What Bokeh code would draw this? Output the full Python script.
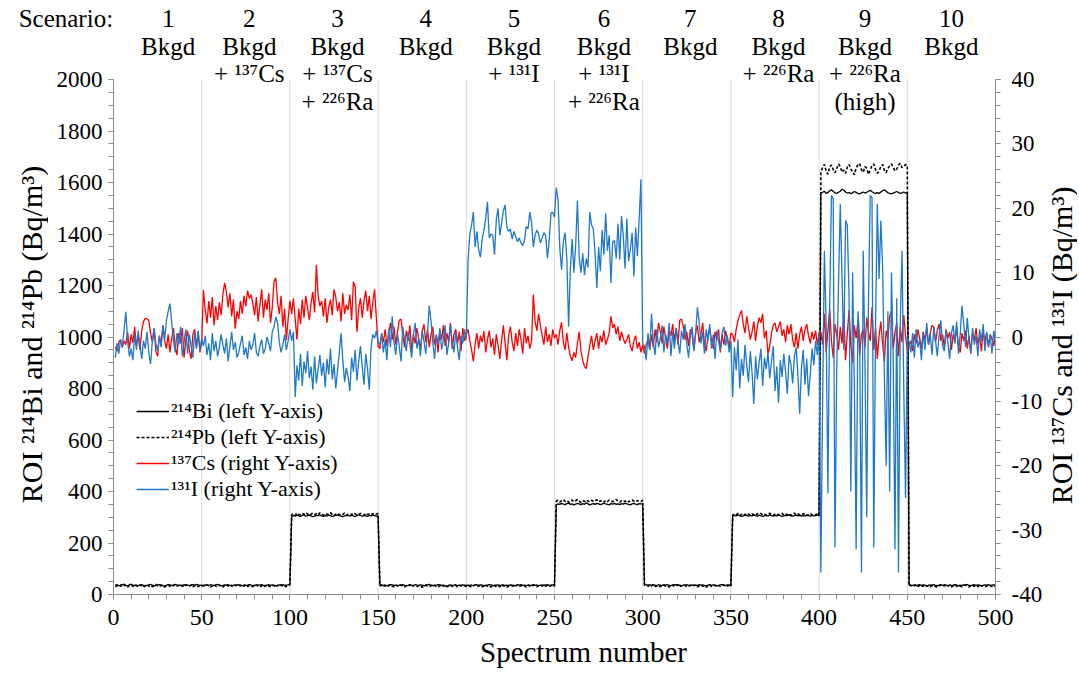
from math import pi
from bokeh.plotting import figure
from bokeh.layouts import column, row
from bokeh.models import Range1d, LinearAxis, FixedTicker, Legend, LegendItem
from bokeh.core.properties import value
from bokeh.embed import file_html
from bokeh.resources import INLINE

FONT = "Liberation Serif"

# ---------------- data ----------------
spectrum = list(range(1, 501))

# 214Bi, left axis (Bq/m3), one list per scenario of 50 spectra
bi_s1 = [36,38,34,37,39,35,36,33,38,40, 36,35,37,34,36,38,35,33,36,37, 39,36,34,35,37,38,36,34,33,36, 38,37,35,36,39,37,34,36,35,38, 36,37,34,35,38,36,39,37,35,36]
bi_s2 = [35,37,36,34,38,36,35,37,39,36, 34,35,37,36,38,35,33,36,37,35, 38,36,34,37,35,36,38,37,34,36, 35,37,36,39,35,34,36,38,35,37, 36,34,35,37,36,38,35,36,37,40]
bi_s3 = [302,306,304,308,305,303,307,309,304,306, 308,305,302,304,307,306,309,305,303,306, 304,308,306,303,305,307,309,306,304,302, 305,307,306,304,308,305,303,306,309,307, 304,305,306,303,307,305,308,306,304,305]
bi_s4 = [38,36,35,37,34,36,38,37,35,36, 34,37,35,38,36,33,35,37,36,34, 38,36,35,37,36,34,35,37,39,36, 35,34,36,38,37,35,36,34,33,36, 37,35,36,38,34,36,35,37,36,35]
bi_s5 = [36,35,37,34,36,38,35,37,36,34, 35,36,38,37,35,34,36,37,35,36, 38,34,36,35,37,36,35,34,37,36, 38,35,36,34,37,35,36,38,35,37, 34,36,35,37,36,38,35,36,37,36]
bi_s6 = [348,352,350,354,351,349,353,355,350,352, 348,351,354,352,349,353,350,356,352,348, 351,353,350,354,352,349,351,355,352,350, 348,353,351,354,350,352,349,353,351,355, 352,350,348,352,354,351,349,353,352,350]
bi_s7 = [40,37,36,38,35,37,36,34,38,36, 35,37,36,39,35,34,36,38,37,35, 36,34,37,36,38,35,36,37,34,36, 35,38,36,37,35,34,36,38,35,37, 36,34,35,37,38,36,35,37,36,38]
bi_s8 = [304,307,305,309,306,303,305,308,306,304, 307,305,309,306,304,308,305,303,306,307, 305,309,306,304,307,305,308,306,303,305, 307,306,309,305,304,306,308,305,307,304, 306,305,308,306,304,307,305,306,308,305]
bi_s9 = [1560,1562,1566,1558,1561,1568,1572,1565,1560,1558, 1562,1566,1574,1570,1563,1559,1561,1557,1560,1565, 1562,1558,1556,1560,1563,1559,1562,1566,1570,1564, 1560,1558,1561,1557,1563,1568,1572,1566,1560,1558, 1556,1559,1562,1565,1561,1558,1560,1563,1559,1561]
bi_s10 = [38,36,35,37,34,36,38,35,37,36, 34,35,37,36,38,35,34,36,37,35, 38,36,34,37,35,36,38,37,34,36, 35,37,36,39,35,34,36,38,35,37, 36,34,35,37,36,38,35,36,37,36]

# 214Pb, left axis (Bq/m3)
pb_s1 = [30,34,38,32,36,40,33,29,35,39, 31,36,34,30,37,33,28,35,38,32, 36,30,34,39,33,31,36,35,29,34, 37,32,30,35,38,33,36,31,34,29, 37,35,32,38,30,34,36,31,35,33]
pb_s2 = [34,31,37,35,29,33,38,32,30,36, 34,28,35,39,33,31,36,30,34,37, 32,35,29,33,38,31,36,34,30,35, 37,32,29,34,36,31,38,33,30,35, 34,28,36,32,37,31,34,30,35,38]
pb_s3 = [310,314,308,316,312,309,315,311,318,313, 307,312,316,310,314,309,317,312,308,315, 311,313,318,310,306,312,315,309,314,311, 316,308,312,314,310,317,313,309,311,315, 312,308,316,311,313,310,314,309,312,315]
pb_s4 = [33,37,31,35,29,34,38,32,30,36, 34,31,37,33,29,35,32,38,30,34, 36,31,35,33,28,34,37,32,30,35, 33,36,31,29,34,38,32,35,30,33, 37,31,34,36,30,33,35,32,34,31]
pb_s5 = [35,32,29,34,37,31,33,36,30,34, 38,32,35,29,33,36,31,34,30,37, 33,35,29,32,36,34,30,33,38,31, 35,32,34,29,36,33,31,35,37,30, 34,32,36,29,33,35,31,34,37,32]
pb_s6 = [362,366,359,364,368,361,365,358,363,367, 360,364,369,362,358,365,361,367,363,359, 366,362,364,368,360,363,366,359,365,361, 367,363,360,364,369,362,358,365,363,361, 366,360,364,367,362,359,365,363,361,366]
pb_s7 = [36,32,35,29,34,38,31,33,36,30, 34,37,32,35,29,33,36,31,35,38, 30,34,32,36,29,33,35,31,37,34, 30,33,36,32,35,29,34,38,31,33, 36,30,35,32,34,37,31,33,35,30]
pb_s8 = [308,313,310,315,307,311,314,309,316,312, 308,313,310,306,314,311,315,309,312,308, 313,316,310,307,312,314,309,311,315,308, 312,310,314,307,311,316,309,313,310,308, 314,312,306,311,315,309,312,310,313,308]
pb_s9 = [1640,1658,1670,1645,1632,1660,1668,1650,1638,1655, 1672,1662,1640,1648,1635,1660,1670,1652,1642,1630, 1656,1668,1674,1650,1640,1662,1655,1632,1648,1666, 1672,1650,1636,1645,1662,1670,1648,1638,1655,1664, 1672,1660,1645,1652,1668,1674,1658,1662,1670,1666]
pb_s10 = [33,36,30,34,38,31,35,29,33,37, 32,35,30,34,36,31,28,34,37,32, 35,30,33,36,29,34,38,31,35,32, 30,34,37,33,29,35,36,31,34,30, 37,33,35,29,32,36,34,31,35,33]

# 137Cs, right axis (Bq/m3)
cs_s1 = [-1.5,-2.2,-0.8,-0.4,-1.6,-0.6,-1.2,0.8,-1.8,0.4, -0.9,1.6,-1.4,0.2,-2.0,1.0,2.4,2.9,2.8,2.6, 0.6,-0.8,1.2,-2.2,-3.0,0.2,-1.2,1.8,-0.6,-1.8, 0.4,-2.4,-0.2,1.4,-1.6,-2.8,0.6,-1.0,1.4,-3.2, -0.4,1.0,-2.0,-3.4,0.4,1.2,-1.6,0.8,-2.4,-0.6]
cs_s2 = [7.3,4.2,2.1,5.6,3.0,6.2,1.8,4.8,2.6,5.4, 3.4,6.6,8.4,7.0,4.6,6.8,3.2,5.8,1.3,4.0, 2.8,5.6,3.6,6.4,4.8,7.2,6.0,6.6,5.2,3.4, 6.2,2.4,5.0,7.4,3.0,5.8,4.2,6.8,2.2,4.6, 8.6,9.2,5.4,3.6,6.4,1.6,4.4,-0.5,2.8,5.6]
cs_s3 = [3.6,6.0,2.8,-0.4,4.4,2.0,5.8,3.0,6.4,4.6, 2.6,5.2,7.0,3.8,11.2,6.4,4.8,5.6,3.2,6.0, 2.2,4.6,5.8,3.4,7.4,6.2,4.0,5.4,2.4,6.8, 3.6,5.0,4.2,6.6,2.6,8.6,7.8,0.8,4.4,6.0, 3.0,5.6,7.2,4.0,6.4,2.8,5.4,7.4,3.0,-1.4]
cs_s4 = [-1.8,0.4,-0.8,1.2,-1.4,0.6,2.2,-0.4,1.6,-1.2, 0.8,2.6,2.8,0.2,-1.6,1.0,-0.6,1.8,-2.2,0.4, -1.0,1.4,-0.2,-2.0,0.8,2.0,-0.8,1.2,-1.6,0.4, 1.6,-1.2,0.2,-2.4,1.0,-0.4,1.8,-1.4,0.6,-0.8, 2.2,-1.8,0.4,1.2,-1.0,0.8,-2.2,1.4,-0.6,0.4]
cs_s5 = [1.2,-0.6,-2.0,-3.8,-1.2,0.6,-1.8,0.2,-0.8,0.9, -2.4,-0.4,1.0,-1.6,-0.2,-2.8,0.4,-1.2,-3.4,-0.6, 1.8,-1.0,-3.6,0.2,1.6,-0.8,-2.2,0.6,-1.4,1.2, -0.4,-2.6,1.4,-1.0,0.2,-1.8,-0.6,6.6,2.4,1.0, 3.6,1.8,0.2,-1.2,1.6,-0.8,0.4,-1.4,1.2,-0.2]
cs_s6 = [0.4,-1.2,1.0,2.3,-0.8,-2.0,0.6,-1.6,-3.0,-3.7, -2.4,-3.2,-1.0,0.8,-2.2,-3.6,-4.6,-4.9,-3.0,-1.4, 0.2,-2.0,-0.6,0.6,-1.8,0.2,-0.8,1.0,-1.2,-0.4, 0.6,3.2,1.4,2.0,0.4,1.6,-0.6,0.8,-0.2,-1.0, -0.4,0.4,-1.4,-2.2,-0.6,0.2,-1.8,-0.8,-2.4,-1.2]
cs_s7 = [-2.6,-1.2,-0.4,-2.0,0.4,-1.6,1.2,-0.8,2.2,0.8, -1.0,1.6,-0.2,-1.8,1.0,0.2,2.0,-0.6,1.4,-1.2, 2.6,2.8,1.6,-0.4,0.8,-1.4,1.2,0.4,-2.0,0.6, 1.8,-0.8,0.4,2.2,-1.0,-2.2,0.2,1.4,-0.6,-1.8, 0.8,-0.4,1.2,-2.4,0.4,-1.2,1.0,-0.2,-1.6,0.6]
cs_s8 = [0.4,-0.8,1.2,2.6,3.4,4.1,2.0,0.6,3.2,1.4, -0.4,0.8,2.4,-0.6,1.6,3.0,2.2,3.6,-0.2,1.0, -2.6,-1.4,0.6,1.8,2.2,0.8,1.6,2.4,0.2,1.2, -0.8,1.8,0.4,2.0,-0.4,-1.6,0.6,-1.8,0.4,1.6, -0.6,1.2,2.0,0.2,-1.0,0.8,-0.4,1.0,-1.2,0.6]
cs_s9 = [0.8,-1.2,3.6,-2.4,1.0,4.4,-0.6,-3.2,2.0,0.4, -2.0,1.6,-1.0,3.8,-3.6,0.6,4.2,-1.4,-4.0,1.8, -0.2,2.6,-2.8,0.4,1.2,-1.6,3.0,0.8,-0.6,4.6, -2.0,1.4,-3.4,0.2,2.4,-1.0,-3.8,1.0,-0.4,3.2, 4.0,-1.8,0.6,2.2,-3.0,1.6,-0.8,3.4,0.2,-2.2]
cs_s10 = [-1.4,-0.6,-2.2,0.4,-1.0,1.2,-0.2,-1.8,0.8,-0.4, 1.4,-1.2,0.6,1.8,1.6,-0.8,1.0,2.0,-0.6,0.4, -1.6,1.2,-0.2,0.8,-2.0,0.4,-0.8,1.6,-1.4,-2.4, 0.6,-0.6,1.0,-1.8,0.2,-2.6,0.8,-0.4,1.4,-1.2, 0.2,-2.2,1.0,-0.8,0.6,-1.6,0.4,-0.2,-1.4,0.2]

# 131I, right axis (Bq/m3)
i_s1 = [-3.2,-1.0,-2.6,-0.4,-1.6,1.2,3.9,-0.6,-3.0,-1.8, -3.6,0.4,-2.0,1.0,-1.2,-3.4,-0.6,-1.8,0.8,-2.4, -4.2,-0.8,1.4,-1.0,-2.2,0.2,-1.6,1.8,-0.4,2.6, 4.0,5.2,2.2,-0.6,-2.4,0.6,-1.2,1.6,-3.0,-0.8, 1.2,-2.6,0.4,-1.4,-3.2,0.8,-1.8,1.0,-2.2,-0.2]
i_s2 = [-1.4,0.2,-2.8,-1.0,-3.6,0.6,-2.2,-0.6,-3.0,-1.6, 0.4,-1.2,-2.6,-0.2,-3.8,-1.4,0.8,-2.0,-0.8,-3.2, -2.4,-1.0,0.2,-2.8,-1.6,-3.4,-0.6,-2.0,-1.2,0.6, -2.4,-3.0,-1.4,-0.4,-2.6,-1.8,0.0,-1.0,-2.2,0.8, 1.6,3.1,2.2,-0.8,-2.4,-1.2,0.4,-2.0,-0.6,1.2]
i_s3 = [-0.6,0.8,-9.3,-4.4,-6.8,-2.6,-7.6,-3.8,-5.6,-2.2, -6.4,-4.6,-8.2,-3.0,-7.2,-5.0,-2.8,-6.0,-4.0,-7.8, -3.4,-5.8,-1.8,-6.6,-4.2,-8.0,-5.2,-2.4,0.6,-3.6, -7.0,-4.8,-6.2,-8.4,-3.2,-5.4,-2.0,-6.8,-3.8,-1.4, -4.6,-7.4,-2.6,-5.0,-8.2,-1.6,0.4,-0.2,1.0,-0.8]
i_s4 = [-1.2,0.6,-2.4,-0.4,-3.6,1.2,-1.6,3.2,-0.8,-2.8, 0.4,-1.4,-3.8,1.6,-0.6,-2.2,0.8,-1.0,-3.2,0.2, 2.2,-1.8,-0.2,-3.0,1.0,-0.6,-2.6,0.6,4.9,2.4, -0.8,-3.4,0.4,-1.2,1.4,-2.0,-0.4,1.8,-2.8,-1.0, 2.0,-0.6,-2.4,0.8,-1.6,-3.6,0.2,-1.0,1.2,-0.4]
i_s5 = [12.0,16.0,17.4,19.4,14.0,16.4,13.6,12.4,15.2,16.6, 18.4,21.0,15.4,16.0,15.8,12.8,18.2,20.0,15.8,17.6, 19.6,20.5,17.0,16.4,16.8,15.2,16.4,15.6,14.8,15.4, 14.6,14.2,15.0,17.2,16.8,19.4,17.8,14.0,15.8,16.6, 16.0,14.6,15.4,16.2,15.8,12.2,15.0,19.2,19.4,18.6]
i_s6 = [23.2,21.4,13.8,10.4,14.8,16.2,12.0,1.6,10.6,15.2, 10.0,14.2,21.2,12.4,10.0,13.0,9.6,12.2,10.8,19.4, 17.4,16.8,13.0,7.6,14.0,10.2,16.6,12.8,19.2,13.4, 15.8,8.4,14.8,15.0,12.2,17.6,12.0,18.8,15.6,10.6, 18.4,11.8,13.6,16.2,9.4,17.0,12.6,18.4,24.5,-1.0]
i_s7 = [-1.4,-3.6,0.6,-2.0,3.6,-0.8,-2.8,1.2,-1.6,-0.2, 1.8,-2.4,0.4,-1.0,2.2,-3.0,0.8,-1.8,1.4,-0.6, -2.6,1.0,-0.4,2.0,-1.2,-3.2,0.2,1.6,-2.2,0.6, 4.6,2.4,-1.0,0.8,-2.6,1.2,-0.6,2.0,-1.8,0.4, -3.4,1.0,-0.8,-2.0,0.6,1.6,-1.4,0.2,-2.4,-0.6]
i_s8 = [-9.4,-1.6,-5.2,-0.4,-8.0,-3.4,-6.0,-1.2,-4.4,-7.0, -2.2,-5.6,-10.4,-3.0,-6.6,-4.0,-1.8,-7.6,-3.2,-5.0, -2.4,-6.4,-3.8,-1.4,-8.4,-4.6,-10.2,-3.6,-6.2,-2.6, -5.4,-8.8,-2.8,-4.2,-7.2,-3.0,-1.6,-6.0,-11.9,-4.8, -2.0,-7.4,-3.4,-9.2,-5.8,-1.8,-4.4,-0.6,-2.8,0.8]
i_s9 = [-36.6,-10.0,13.4,2.0,-24.3,5.0,22.0,21.5,-32.7,-5.0, 8.0,20.7,9.2,-2.0,18.1,17.4,6.0,-24.0,10.0,-8.0, -33.0,4.0,0.0,-36.6,13.4,-4.0,-28.0,6.0,22.0,21.6, -32.7,2.0,20.7,9.0,18.1,11.0,-6.0,-20.0,4.0,-24.0, 10.0,-3.0,-33.0,6.0,-36.6,2.0,13.4,-8.0,-25.0,0.0]
i_s10 = [-0.8,-2.4,0.6,-3.2,1.2,-1.6,-0.4,-3.6,0.8,-2.0, 2.2,-1.2,0.4,-2.8,1.6,-0.6,-3.0,0.2,2.6,-1.4, -2.2,1.0,-0.8,-3.4,0.6,1.8,-1.0,2.4,-2.6,0.4, 4.9,2.0,-1.6,3.0,-0.4,-2.4,1.4,-1.2,0.2,-3.0, 1.2,-0.6,2.0,-2.2,0.8,-1.4,0.4,-2.6,1.0,-0.8]

bi214 = bi_s1 + bi_s2 + bi_s3 + bi_s4 + bi_s5 + bi_s6 + bi_s7 + bi_s8 + bi_s9 + bi_s10
pb214 = pb_s1 + pb_s2 + pb_s3 + pb_s4 + pb_s5 + pb_s6 + pb_s7 + pb_s8 + pb_s9 + pb_s10
cs137 = cs_s1 + cs_s2 + cs_s3 + cs_s4 + cs_s5 + cs_s6 + cs_s7 + cs_s8 + cs_s9 + cs_s10
i131 = i_s1 + i_s2 + i_s3 + i_s4 + i_s5 + i_s6 + i_s7 + i_s8 + i_s9 + i_s10
for arr in (bi214, pb214, cs137, i131):
    assert len(arr) == 500, len(arr)

# scenario header (centred on each block of 50 spectra)
scenario_centers = [31, 77, 127, 177, 227, 278, 327, 377, 426, 475]
scenario_lines = [
    ["1", "Bkgd"],
    ["2", "Bkgd", "+ \u00b9\u00b3\u2077Cs"],
    ["3", "Bkgd", "+ \u00b9\u00b3\u2077Cs", "+ \u00b2\u00b2\u2076Ra"],
    ["4", "Bkgd"],
    ["5", "Bkgd", "+ \u00b9\u00b3\u00b9I"],
    ["6", "Bkgd", "+ \u00b9\u00b3\u00b9I", "+ \u00b2\u00b2\u2076Ra"],
    ["7", "Bkgd"],
    ["8", "Bkgd", "+ \u00b2\u00b2\u2076Ra"],
    ["9", "Bkgd", "+ \u00b2\u00b2\u2076Ra", "(high)"],
    ["10", "Bkgd"],
]
scenario_title = "Scenario:"
legend_labels = ["\u00b2\u00b9\u2074Bi (left Y-axis)", "\u00b2\u00b9\u2074Pb (left Y-axis)",
                 "\u00b9\u00b3\u2077Cs (right Y-axis)", "\u00b9\u00b3\u00b9I (right Y-axis)"]
left_title = "ROI \u00b2\u00b9\u2074Bi and \u00b2\u00b9\u2074Pb (Bq/m\u00b3)"
right_title = "ROI \u00b9\u00b3\u2077Cs and \u00b9\u00b3\u00b9I (Bq/m\u00b3)"
x_title = "Spectrum number"
x_ticks = [0, 50, 100, 150, 200, 250, 300, 350, 400, 450, 500]
left_ticks = [0, 200, 400, 600, 800, 1000, 1200, 1400, 1600, 1800, 2000]
right_ticks = [-40, -30, -20, -10, 0, 10, 20, 30, 40]

# ---------------- layout geometry (page pixels) ----------------
TOTAL_W, TOTAL_H = 1077, 670
HEAD_H = 32                      # strip with "Scenario:" and the scenario numbers
LW, RW = 48, 32                  # strips holding the rotated axis titles
MW = TOTAL_W - LW - RW           # main figure width
MH = TOTAL_H - HEAD_H            # main figure height
FRAME_L, FRAME_R, FRAME_B = 113, 995, 594
px_per_x = (FRAME_R - FRAME_L) / 500.0
px_per_left = 515.0 / 2000.0     # 2000 at y=79, 0 at y=594
px_per_right = 515.0 / 80.0
frame_h = FRAME_B - HEAD_H
left_top = frame_h / px_per_left
right_top = -40 + frame_h / px_per_right


def bare(fig):
    fig.outline_line_color = None
    fig.grid.visible = False
    fig.background_fill_color = "white"
    fig.border_fill_color = "white"
    return fig


# ---------------- header strip ----------------
hx0 = -FRAME_L / px_per_x
hx1 = hx0 + TOTAL_W / px_per_x
head = bare(figure(width=TOTAL_W, height=HEAD_H, x_range=Range1d(hx0, hx1),
                   y_range=Range1d(0, HEAD_H), x_axis_location=None, y_axis_location=None,
                   toolbar_location=None, output_backend="svg", min_border=0))
row1_y = HEAD_H - 18
hx = [-27] + scenario_centers
hy = [row1_y] * (len(scenario_centers) + 1)
ht = [scenario_title] + [lines[0] for lines in scenario_lines]
head.text(x=hx, y=hy, text=ht, text_align="center", text_baseline="middle",
          text_font=value(FONT), text_font_size="25px", text_color="black")

# ---------------- main figure ----------------
p = bare(figure(width=MW, height=MH, x_range=Range1d(0, 500), y_range=Range1d(0, left_top),
                output_backend="svg", toolbar_location=None,
                min_border_left=FRAME_L - LW, min_border_right=LW + MW - FRAME_R,
                min_border_top=0, min_border_bottom=TOTAL_H - FRAME_B))
p.extra_y_ranges = {"right": Range1d(-40, right_top)}

# vertical grid lines every 50 spectra, within the 0-2000 band
grid_x = x_ticks[1:-1]
p.segment(x0=grid_x, y0=[0] * len(grid_x), x1=grid_x, y1=[2000] * len(grid_x),
          line_color="#d9d9d9", line_width=1)

r_bi = p.line(spectrum, bi214, line_color="black", line_width=1.3)
r_pb = p.line(spectrum, pb214, line_color="black", line_width=1.6, line_dash="3 2")
r_cs = p.line(spectrum, cs137, line_color="#ff0000", line_width=1.3, y_range_name="right")
r_i = p.line(spectrum, i131, line_color="#1f78c8", line_width=1.3, y_range_name="right")

right_axis = LinearAxis(y_range_name="right")
p.add_layout(right_axis, "right")


def style_axis(ax, ticks, minor, size, standoff):
    ax.ticker = FixedTicker(ticks=ticks, minor_ticks=minor)
    ax.axis_line_color = "#8c8c8c"
    ax.major_tick_line_color = "#8c8c8c"
    ax.minor_tick_line_color = "#8c8c8c"
    ax.major_tick_out = 5
    ax.major_tick_in = 0
    ax.minor_tick_out = 5
    ax.minor_tick_in = 0
    ax.major_label_text_font = FONT
    ax.major_label_text_font_size = size
    ax.major_label_text_color = "black"
    ax.major_label_standoff = standoff
    ax.axis_label_text_font = FONT
    ax.axis_label_text_font_size = "29px"
    ax.axis_label_text_font_style = "normal"
    ax.axis_label_text_color = "black"


xax = p.xaxis[0]
lax = p.yaxis[0]
style_axis(xax, x_ticks, list(range(0, 501, 10)), "24px", 10)
style_axis(lax, left_ticks, list(range(0, 2001, 50)), "23px", 6)
style_axis(right_axis, right_ticks, list(range(-40, 41, 2)), "23px", 11)
right_axis.major_label_overrides = {t: str(t) for t in right_ticks}
lax.bounds = (0, 2000)
right_axis.bounds = (-40, 40)
xax.axis_label = "\u00a0" * 8 + x_title
xax.axis_label_standoff = 8

# rows 2-4 of the scenario header sit inside the plotting frame
row_centers_page = [46, 73, 101]
mx, my, mt = [], [], []
for xc, lines in zip(scenario_centers, scenario_lines):
    for k in range(1, len(lines)):
        mx.append(xc)
        my.append((FRAME_B - row_centers_page[k - 1]) / px_per_left)
        mt.append(lines[k])
p.text(x=mx, y=my, text=mt, text_align="center", text_baseline="middle",
       text_font=value(FONT), text_font_size="25px", text_color="black")

legend = Legend(items=[LegendItem(label=legend_labels[0], renderers=[r_bi]),
                       LegendItem(label=legend_labels[1], renderers=[r_pb]),
                       LegendItem(label=legend_labels[2], renderers=[r_cs]),
                       LegendItem(label=legend_labels[3], renderers=[r_i])],
                location=(23, 92))
legend.label_text_font = FONT
legend.label_text_font_size = "22px"
legend.label_text_color = "black"
legend.glyph_width = 33
legend.glyph_height = 20
legend.label_height = 25
legend.label_standoff = 2
legend.spacing = 0
legend.padding = 4
legend.margin = 0
legend.border_line_color = None
legend.background_fill_alpha = 0
p.add_layout(legend)

# ---------------- side strips with the rotated axis titles ----------------
# the strips' frames are aligned by the row layout with the main frame (page y 32..594)
strip_scale = MH / float(FRAME_B - HEAD_H)


def strip_y(page_y):
    return MH - (page_y - HEAD_H) * strip_scale


def side_strip(width, x_center, page_y, text):
    s = bare(figure(width=width, height=MH, x_range=Range1d(0, width), y_range=Range1d(0, MH),
                    x_axis_location=None, y_axis_location=None, toolbar_location=None,
                    output_backend="svg", min_border=0))
    s.text(x=[x_center], y=[strip_y(page_y)], text=[text], angle=pi / 2,
           text_align="center", text_baseline="middle", text_font=value(FONT),
           text_font_size="30px", text_color="black")
    return s


left_strip = side_strip(LW, 31, 334, left_title)
right_strip = side_strip(RW, 16, 345, right_title)

layout = column(head, row(left_strip, p, right_strip, spacing=0), spacing=0)
open("out.html", "w").write(file_html(layout, INLINE))
